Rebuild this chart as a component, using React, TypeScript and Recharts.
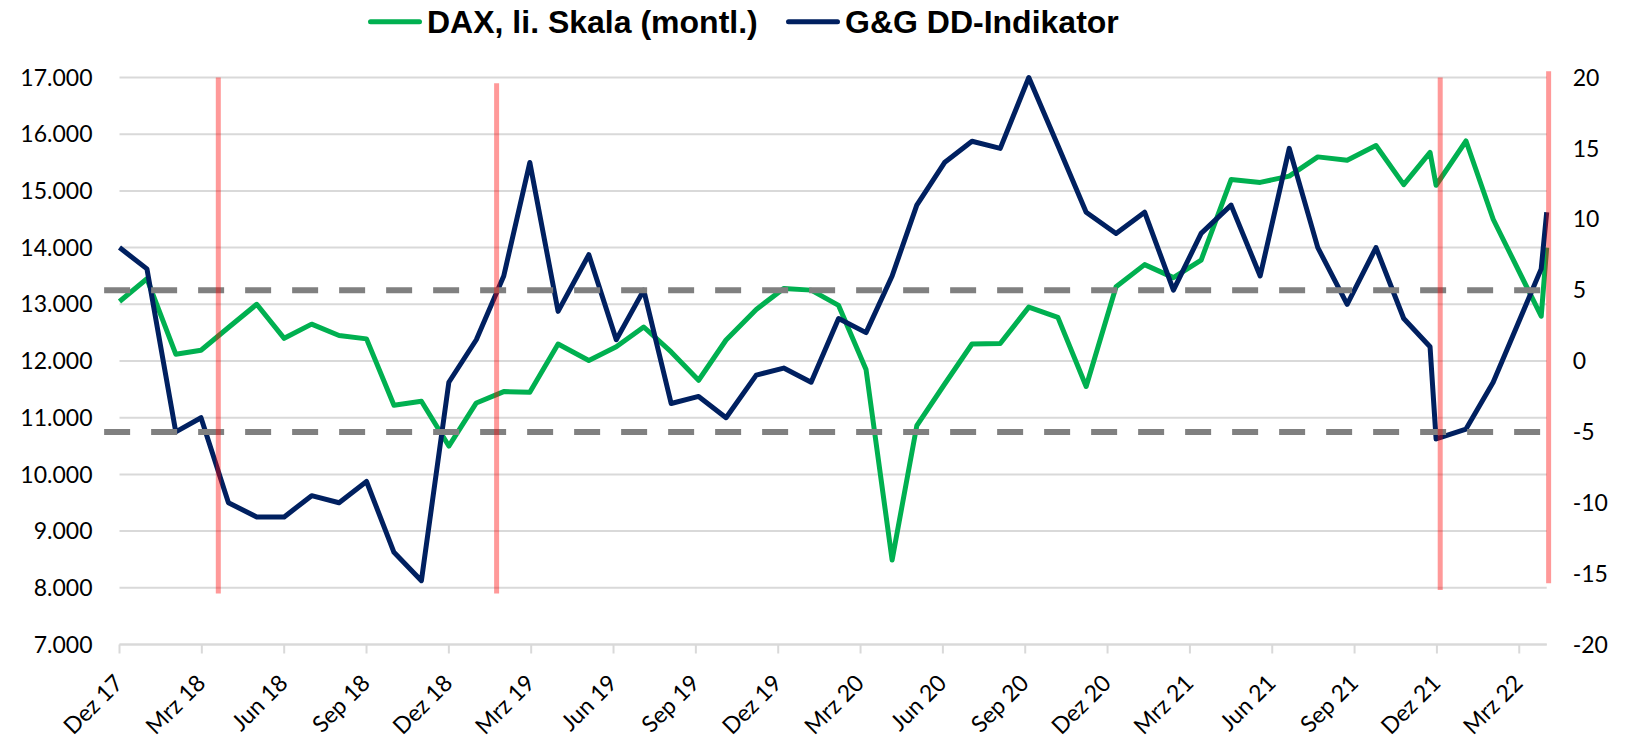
import React from "react";
import {
  LineChart,
  Line,
  XAxis,
  YAxis,
  CartesianGrid,
  ReferenceLine,
  Legend,
} from "recharts";

// x position = months since Dez 17 (read off the picture, not all points are exactly monthly)
const monthPos = [
  0, 1, 2.05, 2.97, 3.97, 5, 6, 7, 8, 9, 10, 11, 12, 13, 14, 14.95, 15.98, 17.1,
  18.1, 19.1, 20.1, 21.1, 22.1, 23.2, 24.2, 25.2, 26.2, 27.2, 28.15, 29.05,
  30.06, 31.06, 32.09, 33.13, 34.19, 35.22, 36.31, 37.35, 38.4, 39.41, 40.5,
  41.56, 42.62, 43.66, 44.73, 45.78, 46.79, 47.75, 47.97, 49.06, 50.05, 51.8, 52,
];

// DAX, left scale
const daxValues = [
  13050, 13450, 12120, 12190, 12590, 13000, 12400, 12650, 12450, 12390, 11220,
  11290, 10500, 11260, 11460, 11450, 12300, 12010, 12250, 12600, 12160, 11660,
  12370, 12910, 13280, 13250, 12980, 11850, 8490, 10860, 11590, 12300, 12310,
  12950, 12770, 11550, 13310, 13700, 13470, 13780, 15200, 15150, 15260, 15600,
  15540, 15800, 15110, 15680, 15100, 15880, 14500, 12790, 14000,
];

// G&G DD-Indikator, right scale
const ddValues = [
  8, 6.5, -5, -4, -10, -11, -11, -9.5, -10, -8.5, -13.5, -15.5, -1.5, 1.5, 6,
  14, 3.5, 7.5, 1.5, 5, -3, -2.5, -4, -1, -0.5, -1.5, 3, 2, 6, 11, 14, 15.5, 15,
  20, 15.2, 10.5, 9, 10.5, 5, 9, 11, 6, 15, 8, 4, 8, 3, 1, -5.5, -4.8, -1.5,
  6.5, 10.5,
];

const tickMonths = [0, 3, 6, 9, 12, 15, 18, 21, 24, 27, 30, 33, 36, 39, 42, 45, 48, 51];
const tickLabels = [
  "Dez 17", "Mrz 18", "Jun 18", "Sep 18", "Dez 18", "Mrz 19", "Jun 19", "Sep 19",
  "Dez 19", "Mrz 20", "Jun 20", "Sep 20", "Dez 20", "Mrz 21", "Jun 21", "Sep 21",
  "Dez 21", "Mrz 22",
];

const leftTicks = [7000, 8000, 9000, 10000, 11000, 12000, 13000, 14000, 15000, 16000, 17000];
const rightTicks = [-20, -15, -10, -5, 0, 5, 10, 15, 20];

// signal markers (red) and indicator thresholds (grey dashed)
const signalMonths = [3.6, 13.74, 48.12, 52.07];
const signalTop = [17000, 16900, 17000, 17110];
const signalBottom = [7900, 7900, 7960, 8080];
const thresholds = [5, -5];

const rows = monthPos.map((m, i) => ({ m, dax: daxValues[i], dd: ddValues[i] }));

const fmtThousands = (v: number) =>
  String(v).replace(/\B(?=(\d{3})+(?!\d))/g, ".");

const MonthTick = (props: any) => {
  const { x, y, payload } = props;
  const label = tickLabels[tickMonths.indexOf(payload.value)];
  return (
    <g transform={`translate(${x + 5},${y + 29})`}>
      <text
        textAnchor="end"
        transform="rotate(-45)"
        fontSize={23}
        fontFamily="Lato"
        fill="#000"
      >
        {label}
      </text>
    </g>
  );
};

const legendX = [368, 786];

const renderLegend = (props: any) => (
  <svg width={1629} height={77.5} style={{ display: "block" }}>
    {(props.payload || []).map((entry: any, i: number) => (
      <g key={entry.value}>
        <line
          x1={legendX[i] + 2.5}
          x2={legendX[i] + 51.5}
          y1={21.7}
          y2={21.7}
          stroke={entry.color}
          strokeWidth={5}
          strokeLinecap="round"
        />
        <text
          x={legendX[i] + 59}
          y={32.7}
          fontFamily="'Liberation Sans', Arial, sans-serif"
          fontWeight="bold"
          fontSize={32}
          fill="#000"
        >
          {entry.value}
        </text>
      </g>
    ))}
  </svg>
);

export default function App() {
  return (
    <div style={{ position: "absolute", left: 0, top: 0 }}>
      <LineChart
        width={1629}
        height={739}
        data={rows}
        margin={{ top: 0, right: 0, bottom: 0, left: 0 }}
      >
        <Legend
          verticalAlign="top"
          align="left"
          height={77.5}
          content={renderLegend}
        />
        <CartesianGrid
          yAxisId="left"
          vertical={false}
          stroke="#D9D9D9"
          strokeWidth={2}
        />
        <XAxis
          dataKey="m"
          type="number"
          domain={[0, 52]}
          ticks={tickMonths}
          interval={0}
          height={94.5}
          axisLine={{ stroke: "#D9D9D9", strokeWidth: 2 }}
          tickLine={{ stroke: "#D9D9D9", strokeWidth: 2 }}
          tickSize={9}
          tick={<MonthTick />}
        />
        <YAxis
          yAxisId="left"
          domain={[7000, 17000]}
          ticks={leftTicks}
          width={119.5}
          axisLine={false}
          tickLine={false}
          tickSize={0}
          tickMargin={27}
          tickFormatter={fmtThousands}
          tick={{ fill: "#000", fontSize: 23, fontFamily: "Lato" }}
        />
        <YAxis
          yAxisId="right"
          orientation="right"
          domain={[-20, 20]}
          ticks={rightTicks}
          width={82.3}
          axisLine={false}
          tickLine={false}
          tickSize={0}
          tickMargin={26}
          tick={{ fill: "#000", fontSize: 23, fontFamily: "Lato" }}
        />
        <Line
          yAxisId="left"
          type="linear"
          dataKey="dax"
          name="DAX, li. Skala (montl.)"
          stroke="#00B050"
          strokeWidth={5}
          strokeLinejoin="round"
          dot={false}
          activeDot={false}
          isAnimationActive={false}
        />
        <Line
          yAxisId="right"
          type="linear"
          dataKey="dd"
          name="G&G DD-Indikator"
          stroke="#002060"
          strokeWidth={5}
          strokeLinejoin="round"
          dot={false}
          activeDot={false}
          isAnimationActive={false}
        />
        {thresholds.map((t) => (
          <ReferenceLine
            key={t}
            yAxisId="right"
            segment={[
              { x: -0.56, y: t },
              { x: 52.24, y: t },
            ]}
            stroke="#808080"
            strokeWidth={6}
            strokeDasharray="26 21"
            ifOverflow="visible"
            zIndex={700}
          />
        ))}
        {signalMonths.map((m, i) => (
          <ReferenceLine
            key={m}
            yAxisId="left"
            segment={[
              { x: m, y: signalBottom[i] },
              { x: m, y: signalTop[i] },
            ]}
            stroke="#FF0000"
            strokeOpacity={0.4}
            strokeWidth={5}
            ifOverflow="visible"
            zIndex={800}
          />
        ))}
      </LineChart>
    </div>
  );
}
